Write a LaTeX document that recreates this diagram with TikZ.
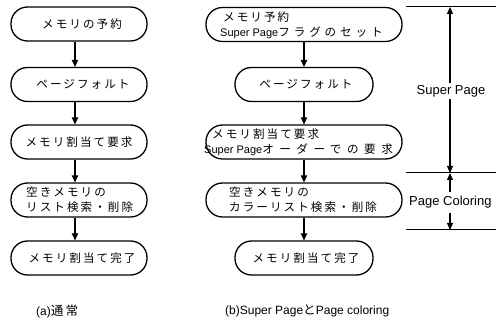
\documentclass[tikz,border=0pt]{standalone}
\usepackage{fontspec}
\setmainfont{Liberation Sans}
\newfontfamily\jpf[LetterSpace=18,Scale=1.05]{Noto Sans CJK JP}
\newfontfamily\jpwf[LetterSpace=34,Scale=1.05]{Noto Sans CJK JP}
\newfontfamily\jpxf[LetterSpace=48,Scale=1.05]{Noto Sans CJK JP}
\newcommand{\jp}[1]{{\jpf #1}}
\newcommand{\jpw}[1]{{\jpwf #1}}
\newcommand{\jpx}[1]{{\jpxf #1}}
\usetikzlibrary{arrows.meta}
\begin{document}
\begin{tikzpicture}[x=1pt,y=-1pt,
  flowbox/.style={draw, line width=1.3pt, rounded corners=16.5pt, minimum height=34pt, inner sep=0pt},
  wbox/.style={flowbox, minimum width=196pt},
  lbox/.style={flowbox, minimum width=136pt},
  nbox/.style={flowbox, minimum width=138pt},
  txt/.style={inner sep=0pt, font=\fontsize{11}{15}\selectfont, align=left},
  flow/.style={line width=1.2pt, -{Triangle[length=7pt,width=6.5pt]}},
  dim/.style={line width=1.2pt, -{Triangle[length=7pt,width=6pt]}},
  rule/.style={line width=1pt},
  side/.style={inner sep=0pt, font=\fontsize{13}{15}\selectfont},
  captxt/.style={inner sep=0pt, font=\fontsize{12}{14}\selectfont, anchor=west}]
\useasboundingbox (0,0) rectangle (496,320);
% left column
\node[lbox] (a1) at (79,24) {};
\node[lbox] (a2) at (79,84.5) {};
\node[lbox] (a3) at (79,142) {};
\node[lbox] (a4) at (79,200) {};
\node[lbox] (a5) at (79,258) {};
\node[txt] (ta1) at (82,24) {\jp{メモリの予約}};
\node[txt] (ta2) at (83,84.5) {\jp{ページフォルト}};
\node[txt] (ta3) at (79,142) {\jp{メモリ割当て要求}};
\node[txt, anchor=west] (ta4) at (26,200) {\jp{空きメモリの}\\\jp{リスト検索・削除}};
\node[txt] (ta5) at (82,258) {\jp{メモリ割当て完了}};
\foreach \u/\v in {a1/a2,a2/a3,a3/a4,a4/a5}
  \draw[flow] ([xshift=-4pt]\u.south) -- ([xshift=-4pt]\v.north);
% right column
\node[wbox] (b1) at (304,24.5) {};
\node[nbox] (b2) at (304,84.5) {};
\node[wbox] (b3) at (304,142) {};
\node[wbox] (b4) at (304,200) {};
\node[nbox] (b5) at (304,258) {};
\node[txt, anchor=west] (tb1) at (220,25) {\hspace{3pt}\jp{メモリ予約}\\Super Page\jpw{フラグのセット}};
\node[txt] (tb2) at (306,84.5) {\jp{ページフォルト}};
\node[txt, anchor=west] (tb3) at (204,142.5) {\hspace{8pt}\jp{メモリ割当て要求}\\Super Page\jpx{オーダーでの要求}};
\node[txt, anchor=west] (tb4) at (229,200) {\jp{空きメモリの}\\\jp{カラーリスト検索・削除}};
\node[txt] (tb5) at (306,258) {\jp{メモリ割当て完了}};
\foreach \u/\v in {b1/b2,b2/b3,b3/b4,b4/b5}
  \draw[flow] (\u.south) -- (\v.north);
% dimension lines
\coordinate (h1l) at (406,7);   \coordinate (h1r) at (496,7);
\coordinate (h2l) at (406,173); \coordinate (h2r) at (496,173);
\coordinate (h3l) at (406,230); \coordinate (h3r) at (496,230);
\draw[rule] (h1l) -- (h1r);
\draw[rule] (h2l) -- (h2r);
\draw[rule] (h3l) -- (h3r);
\node[side] (sp) at (451,91) {Super Page};
\node[side, anchor=west] (pc) at (409,202.5) {Page Coloring};
\coordinate (t1) at (450,7);
\coordinate (t2) at (450,173);
\coordinate (t3) at (450,230);
\draw[dim] (t1 |- sp.north) ++(0,-2) -- (t1);
\draw[dim] (t2 |- sp.south) ++(0,2) -- (t2);
\draw[dim] (450,192) coordinate (u1) -- (t2);
\draw[dim] (450,213) coordinate (u2) -- (t3);
% captions
\node[captxt] (ca) at (36,311) {(a)\jp{通常}};
\node[captxt] (cb) at (225,311) {(b)Super Page\jp{と}Page coloring};
\end{tikzpicture}
\end{document}
